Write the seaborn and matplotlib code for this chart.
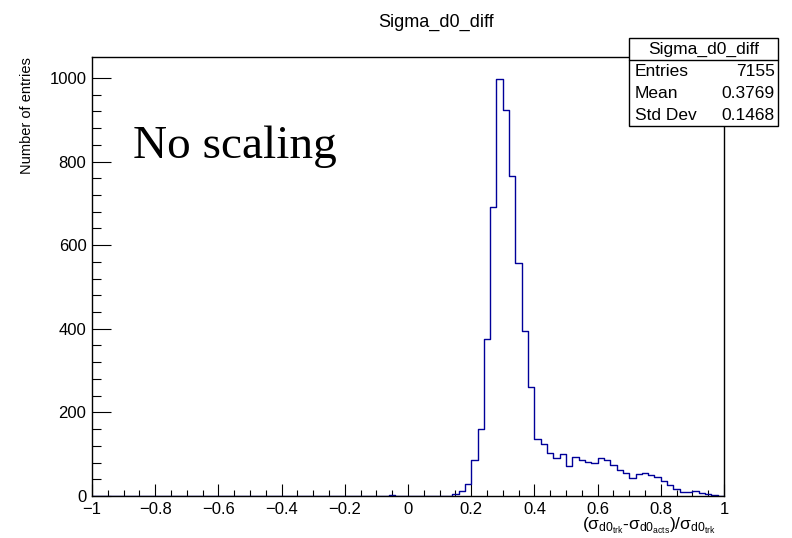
import numpy as np
import pandas as pd
import matplotlib
matplotlib.use("Agg")
import matplotlib.pyplot as plt
import seaborn as sns
from matplotlib.patches import Rectangle
from matplotlib.lines import Line2D
from matplotlib.ticker import MultipleLocator, FixedLocator, FuncFormatter

# ---- histogram contents: 100 bins of width 0.02 on [-1, 1] ----
x_low, x_high, n_bins = -1.0, 1.0, 100
counts = [
    0, 0, 0, 0, 0, 0, 0, 0, 0, 0,          # -1.00 .. -0.82
    0, 0, 0, 0, 0, 0, 0, 0, 0, 0,          # -0.80 .. -0.62
    0, 0, 0, 0, 0, 0, 0, 0, 0, 0,          # -0.60 .. -0.42
    0, 0, 0, 0, 0, 0, 0, 0, 0, 0,          # -0.40 .. -0.22
    0, 0, 0, 0, 0, 0, 0, 2, 0, 0,          # -0.20 .. -0.02
    0, 0, 0, 0, 0, 1, 1, 4, 12, 28,        #  0.00 ..  0.18
    85, 161, 376, 692, 998, 924, 766, 557, 395, 260,   # 0.20 .. 0.38
    136, 124, 104, 90, 101, 72, 93, 85, 81, 78,        # 0.40 .. 0.58
    91, 85, 73, 63, 54, 42, 52, 54, 50, 46,            # 0.60 .. 0.78
    37, 26, 17, 10, 9, 13, 7, 4, 3, 1,                 # 0.80 .. 0.98
]

hist_name = "Sigma_d0_diff"
stat_labels = ["Entries", "Mean", "Std Dev"]
stat_values = ["7155", "0.3769", "0.1468"]
y_title = "Number of entries"
x_title = r"$(\sigma_{d0_{trk}}$-$\sigma_{d0_{acts}})/\sigma_{d0_{trk}}$"
note = "No scaling"

edges = np.linspace(x_low, x_high, n_bins + 1)
centers = 0.5 * (edges[:-1] + edges[1:])
df = pd.DataFrame({"x": centers, "n": counts})

# ---- style ----
sns.set_style("white")
plt.rcParams["font.family"] = ["Liberation Sans", "DejaVu Sans"]
plt.rcParams["mathtext.fontset"] = "custom"
plt.rcParams["mathtext.rm"] = "Liberation Sans"
plt.rcParams["mathtext.it"] = "Liberation Sans"
plt.rcParams["mathtext.default"] = "regular"
for key in ("text.color", "axes.labelcolor", "xtick.color", "ytick.color",
            "axes.edgecolor"):
    plt.rcParams[key] = "black"

W, H = 792, 538
fig = plt.figure(figsize=(W / 100, H / 100), dpi=100)
fig.patch.set_facecolor("white")


def fx(px):
    return px / W


def fy(py):
    return 1 - py / H


L, R, T, B = 92, 724, 57, 496
ax = fig.add_axes([fx(L), fy(B), fx(R) - fx(L), fy(T) - fy(B)])

sns.histplot(data=df, x="x", weights="n", bins=n_bins, binrange=(x_low, x_high),
             element="step", fill=False, color="#000099", linewidth=1.0, ax=ax)

ax.set_xlim(x_low, x_high)
ax.set_ylim(0, 1050)
ax.set_xlabel("")
ax.set_ylabel("")

for s in ax.spines.values():
    s.set_visible(True)
    s.set_color("black")
    s.set_linewidth(1.0)

ax.xaxis.set_major_locator(MultipleLocator(0.2))
ax.xaxis.set_minor_locator(MultipleLocator(0.05))
ax.yaxis.set_major_locator(MultipleLocator(200))
ax.yaxis.set_minor_locator(FixedLocator(np.arange(0, 1001, 40)))


def fmt(v, pos):
    s = f"{v:.1f}".rstrip("0").rstrip(".")
    if s in ("-0", "0.0"):
        s = "0"
    return s.replace("-", "\u2212")


ax.xaxis.set_major_formatter(FuncFormatter(fmt))
ax.yaxis.set_major_formatter(FuncFormatter(lambda v, p: f"{int(round(v))}"))

ax.tick_params(axis="x", which="major", direction="in", length=9.0, width=0.8,
               labelsize=12, pad=4, bottom=True, top=False, colors="black")
ax.tick_params(axis="x", which="minor", direction="in", length=4.5, width=0.8,
               bottom=True, top=False, colors="black")
ax.tick_params(axis="y", which="major", direction="in", length=13.5, width=0.8,
               labelsize=12, pad=4, left=True, right=False, colors="black")
ax.tick_params(axis="y", which="minor", direction="in", length=6.8, width=0.8,
               left=True, right=False, colors="black")

ax.text(-0.87, 835, note, family=["Liberation Serif", "DejaVu Serif"],
        fontsize=34, ha="left", va="center", color="black")

# ---- titles ----
fig.text(fx(436), fy(22), hist_name, ha="center", va="center", fontsize=13)
fig.text(fx(27), fy(T), y_title, rotation=90, ha="center", va="top", fontsize=10.5)
fig.text(fx(716), fy(526), x_title, ha="right", va="center", fontsize=12.5)

# ---- statistics box ----
bx0, bx1, by0, by1, bhead = 629, 778, 38, 126, 60
fig.patches.append(Rectangle((fx(bx0), fy(by1)), fx(bx1) - fx(bx0), fy(by0) - fy(by1),
                             transform=fig.transFigure, facecolor="white",
                             edgecolor="black", linewidth=1.0, zorder=5))
fig.lines.append(Line2D([fx(bx0), fx(bx1)], [fy(bhead), fy(bhead)],
                        transform=fig.transFigure, color="black", linewidth=1.0,
                        zorder=6))
fig.text(fx((bx0 + bx1) / 2), fy(49), hist_name, ha="center", va="center",
         fontsize=12.5, zorder=7)
for i, (lab, val) in enumerate(zip(stat_labels, stat_values)):
    yy = 71 + 22 * i
    fig.text(fx(bx0 + 6), fy(yy), lab, ha="left", va="center", fontsize=12.5, zorder=7)
    fig.text(fx(bx1 - 3), fy(yy), val, ha="right", va="center", fontsize=12.5, zorder=7)

fig.savefig("out.png", dpi=100, facecolor="white")
